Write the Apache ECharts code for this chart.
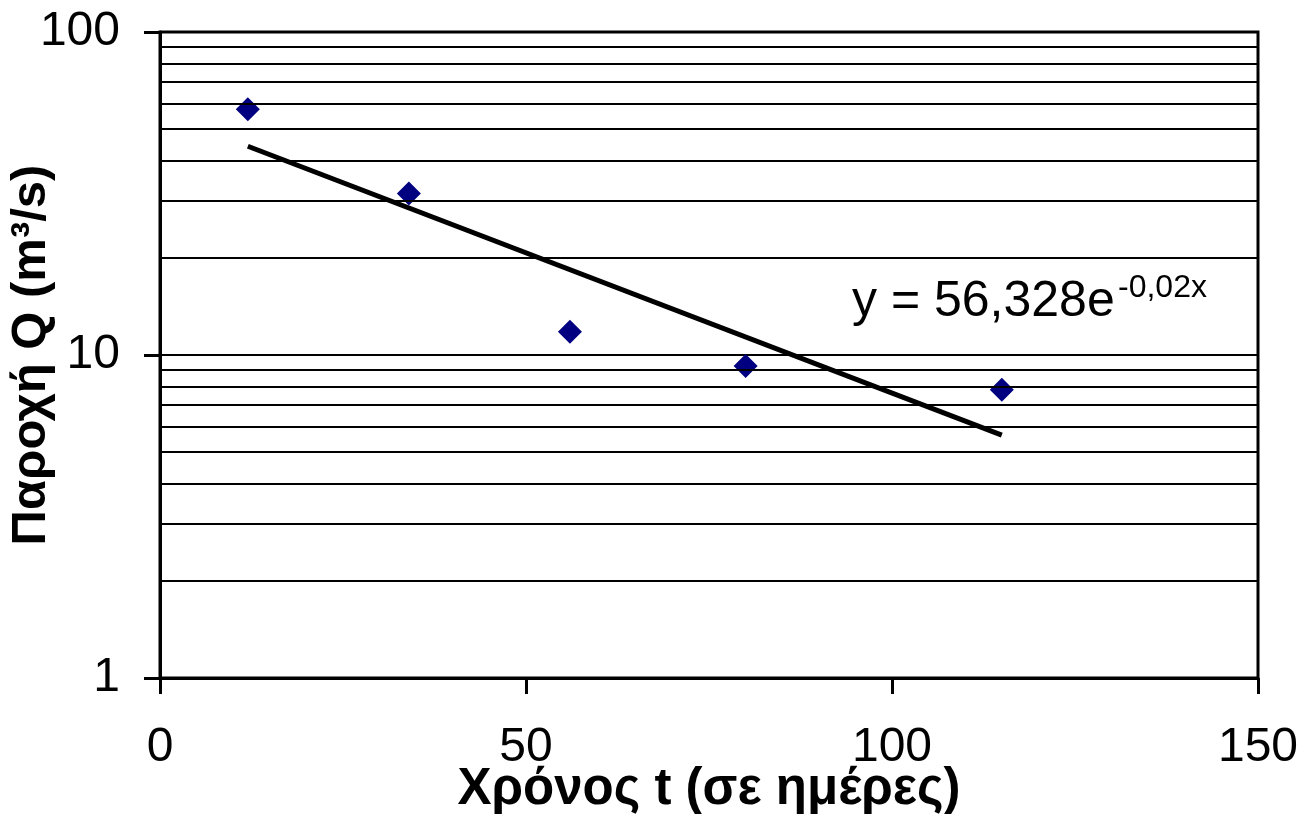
<!DOCTYPE html>
<html>
<head>
<meta charset="utf-8">
<script src="https://cdn.jsdelivr.net/npm/echarts@6/dist/echarts.min.js"></script>
<style>html,body{margin:0;padding:0;background:#fff;}#chart{width:1314px;height:814px;}</style>
</head>
<body>
<div id="chart"></div>
<script>
// Data
const days = [12, 34, 56, 80, 115];
const discharge = [57.7, 31.6, 11.8, 9.25, 7.8];
const trendDays = [12, 115];
const trendValues = [44.3, 5.65];
const gridValues = [2, 3, 4, 5, 6, 7, 8, 9, 20, 30, 40, 50, 60, 70, 80, 90];
const xTitle = 'Χρόνος t (σε ημέρες)';
const yTitle = 'Παροχή Q (m³/s)';
const equationMain = 'y = 56,328e';
const equationExp = '-0,02x';

const FONT = '"Liberation Sans", Arial, sans-serif';
const chart = echarts.init(document.getElementById('chart'), null, {renderer: 'canvas'});

chart.setOption({
  backgroundColor: '#fff',
  animation: false,
  textStyle: {fontFamily: FONT},
  grid: {left: 160, right: 56, top: 32, bottom: 136, containLabel: false, outerBoundsMode: 'none',
         show: true, borderColor: '#000', borderWidth: 3, backgroundColor: 'transparent'},
  xAxis: {
    type: 'value', min: 0, max: 150, interval: 50,
    axisLine: {show: true, lineStyle: {color: '#000', width: 3}},
    axisTick: {show: true, length: 16, lineStyle: {color: '#000', width: 3}},
    axisLabel: {color: '#000', fontSize: 48, fontFamily: FONT, margin: 46},
    splitLine: {show: false},
    name: xTitle, nameLocation: 'middle', nameGap: 86, nameMoveOverlap: false,
    nameTextStyle: {color: '#000', fontSize: 51, fontWeight: 'bold', fontFamily: FONT}
  },
  yAxis: {
    type: 'log', logBase: 10, min: 1, max: 100,
    axisLine: {show: true, lineStyle: {color: '#000', width: 3}},
    axisTick: {show: true, length: 16, lineStyle: {color: '#000', width: 3}},
    axisLabel: {color: '#000', fontSize: 48, fontFamily: FONT, margin: 40},
    splitLine: {show: true, lineStyle: {color: '#000', width: 2}},
    name: yTitle, nameLocation: 'middle', nameGap: 104, nameRotate: 90, nameMoveOverlap: false,
    nameTextStyle: {color: '#000', fontSize: 49, fontWeight: 'bold', fontFamily: FONT}
  },
  series: [
    {
      type: 'line', data: [], silent: true,
      markLine: {
        silent: true, symbol: ['none', 'none'], label: {show: false},
        lineStyle: {color: '#000', width: 2, type: 'solid'},
        data: gridValues.map(v => ({yAxis: v}))
      },
      z: 1
    },
    {
      type: 'line', data: trendDays.map((d, i) => [d, trendValues[i]]),
      showSymbol: false, symbol: 'none', lineStyle: {color: '#000', width: 5}, z: 3
    },
    {
      type: 'scatter', data: days.map((d, i) => [d, discharge[i]]),
      symbol: 'diamond', symbolSize: 24, itemStyle: {color: '#000080', opacity: 1}, z: 4
    }
  ],
  graphic: [
    {type: 'text', left: 852, top: 277, style: {text: equationMain, fill: '#000', font: '50px ' + FONT}},
    {type: 'text', left: 1118, top: 272, style: {text: equationExp, fill: '#000', font: '32px ' + FONT}}
  ]
});
</script>
</body>
</html>
